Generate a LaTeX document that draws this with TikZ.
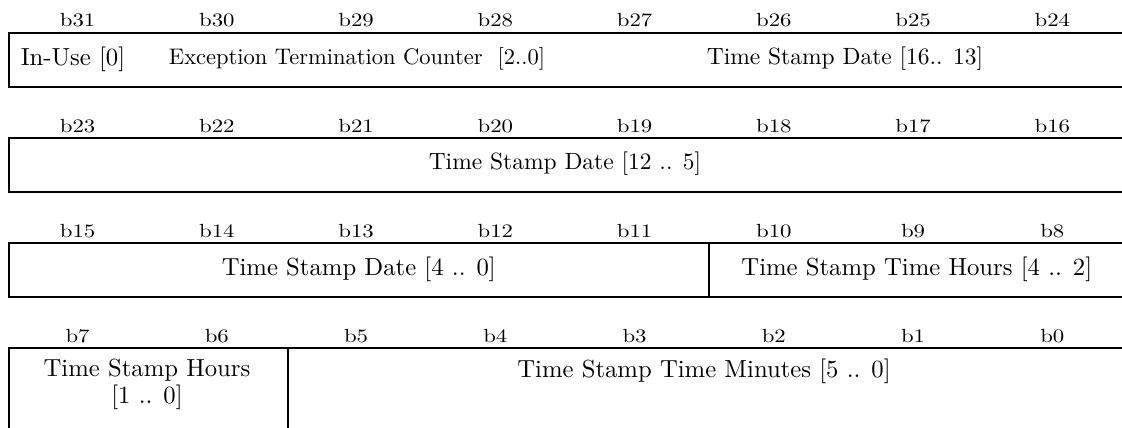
\documentclass[tikz,border=0pt]{standalone}
\usepackage{fontspec}
\newfontfamily\regfont{lmroman10-regular.otf}
\newfontfamily\bitfont[FakeStretch=1.2]{lmroman10-regular.otf}
\usepackage{tikz}
\tikzset{
  bitlbl/.style={font=\bitfont\fontsize{19}{23}\selectfont, anchor=base, inner sep=0pt},
  regbox/.style={rectangle, draw, line width=1.6pt, inner sep=0pt, anchor=north west},
  bigtxt/.style={font=\regfont\fontsize{24.7}{27}\selectfont, inner sep=0pt, align=center},
  smalltxt/.style={font=\regfont\fontsize{23.5}{27}\selectfont, inner sep=0pt},
}

\begin{document}
\begin{tikzpicture}[x=1pt, y=-1pt]
  \useasboundingbox (0,0) rectangle (1122,428);

  % bit numbers above each row
  \foreach \r/\top in {0/32, 1/137, 2/242, 3/347} {
    \foreach \c in {0,...,7} {
      \pgfmathtruncatemacro{\bit}{31 - 8*\r - \c}
      \node[bitlbl] (b\bit) at ({77.6 + 139.25*\c}, \top - 5) {b\bit};
    }
  }

  % Row 1 (b31 .. b24)
  \node[regbox, minimum width=1116pt, minimum height=54pt] (row1) at (8,32) {};
  \node[bigtxt] (inuse) at (73,59) {In-Use [0]};
  \node[smalltxt, font=\regfont\fontsize{22.5}{27}\selectfont] (exccnt) at (357,59)
    {Exception Termination Counter\ \ [2..0]};
  \node[smalltxt] (date1) at (845,59) {Time Stamp Date [16.. 13]};

  % Row 2 (b23 .. b16)
  \node[regbox, minimum width=1116pt, minimum height=54pt] (row2) at (8,137) {};
  \node[smalltxt] (date2) at (565,164) {Time Stamp Date [12 .. 5]};

  % Row 3 (b15 .. b8)
  \node[regbox, minimum width=700pt, minimum height=54pt] (date3) at (8,242) {};
  \node[regbox, minimum width=416pt, minimum height=54pt] (hrs3) at (708,242) {};
  \node[bigtxt] (date3txt) at (date3.center) {Time Stamp Date [4 .. 0]};
  \node[bigtxt] (hrs3txt) at (hrs3.center) {Time Stamp Time Hours [4 .. 2]};

  % Row 4 (b7 .. b0)
  \node[regbox, minimum width=279pt, minimum height=100pt] (hrs4) at (8,347) {};
  \node[regbox, minimum width=837pt, minimum height=100pt] (min4) at (287,347) {};
  \node[bigtxt] (hrs4txt) at (147,384) {Time Stamp Hours\\{[1 .. 0]}};
  \node[bigtxt, anchor=base] (min4txt) at (704,377) {Time Stamp Time Minutes [5 .. 0]};

\end{tikzpicture}
\end{document}
